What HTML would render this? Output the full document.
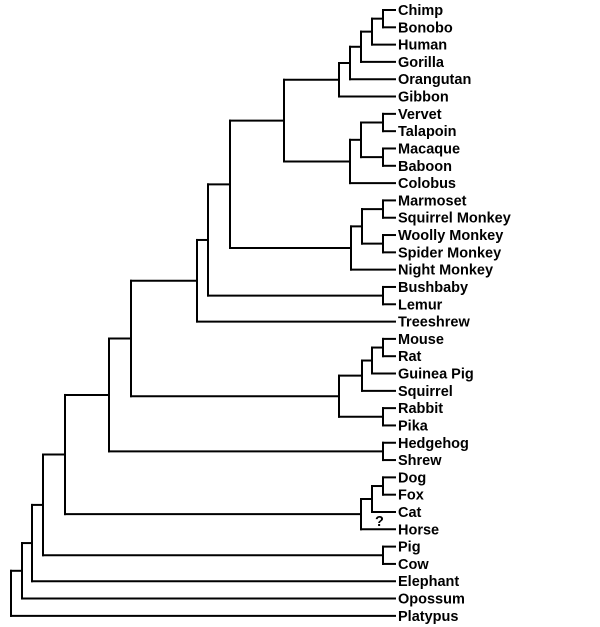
<!DOCTYPE html>
<html><head><meta charset="utf-8"><style>
html,body{margin:0;padding:0;background:#fff;}
svg{display:block;}
text{font-family:"Liberation Sans",Arial,sans-serif;font-weight:bold;font-size:14.5px;fill:#000;}
</style></head><body>
<svg id="tree" width="600" height="627" viewBox="0 0 600 627"></svg>
<script>
const taxa=["Chimp","Bonobo","Human","Gorilla","Orangutan","Gibbon","Vervet","Talapoin","Macaque","Baboon","Colobus","Marmoset","Squirrel Monkey","Woolly Monkey","Spider Monkey","Night Monkey","Bushbaby","Lemur","Treeshrew","Mouse","Rat","Guinea Pig","Squirrel","Rabbit","Pika","Hedgehog","Shrew","Dog","Fox","Cat","Horse","Pig","Cow","Elephant","Opossum","Platypus"];
// tree topology: [nodeX, children...] ; leaves are taxon indices
const tree=[11,
 [22,
  [32,
   [43,
    [65,
     [109,
      [131,
       [197,
        [208,
         [230,
          [284,
           [339,[350,[361,[372,[383,0,1],2],3],4],5],
           [350,[361,[383,6,7],[383,8,9]],10]],
          [351,[362,[383,11,12],[383,13,14]],15]],
         [383,16,17]],
        18],
       [339,[362,[372,[383,19,20],21],22],[383,23,24]]],
      [383,25,26]],
     [361,[372,[383,27,28],29],30]],
    [383,31,32]],
   33],
  34],
 35];
const leafX=395, top0=10, step=17.31;
const svg=document.getElementById('tree');
const NS='http://www.w3.org/2000/svg';
function ly(i){return top0+i*step;}
function line(x1,y1,x2,y2){
  const l=document.createElementNS(NS,'line');
  l.setAttribute('x1',x1);l.setAttribute('y1',y1);l.setAttribute('x2',x2);l.setAttribute('y2',y2);
  l.setAttribute('stroke','#000');l.setAttribute('stroke-width','2');l.setAttribute('stroke-linecap','square');
  
  
  svg.appendChild(l);
}
function draw(n){
  if(typeof n==='number') return {x:leafX,y:ly(n)};
  const x=n[0];
  const kids=n.slice(1).map(draw);
  const ys=kids.map(k=>k.y);
  const y0=Math.min(...ys),y1=Math.max(...ys);
  line(x,y0,x,y1);
  kids.forEach(k=>line(x,k.y,k.x,k.y));
  return {x:x,y:(y0+y1)/2};
}
const root=draw(tree);
taxa.forEach((t,i)=>{
  const tx=document.createElementNS(NS,'text');
  tx.setAttribute('x',398);tx.setAttribute('y',ly(i)+5);
  tx.textContent=t;
  
  
  svg.appendChild(tx);
});
const q=document.createElementNS(NS,'text');
q.setAttribute('x',375);q.setAttribute('y',526);q.textContent='?';


svg.appendChild(q);
</script>
</body></html>
